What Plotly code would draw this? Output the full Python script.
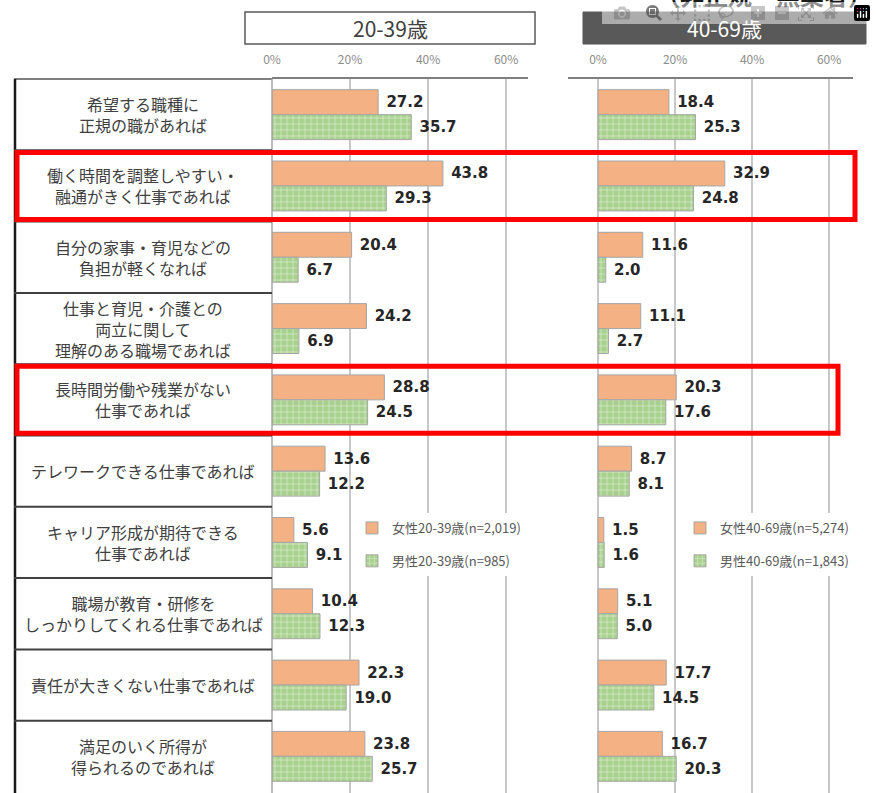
import plotly.graph_objects as go

W, H = 876, 793

categories = [
    "希望する職種に<br>正規の職があれば",
    "働く時間を調整しやすい・<br>融通がきく仕事であれば",
    "自分の家事・育児などの<br>負担が軽くなれば",
    "仕事と育児・介護との<br>両立に関して<br>理解のある職場であれば",
    "長時間労働や残業がない<br>仕事であれば",
    "テレワークできる仕事であれば",
    "キャリア形成が期待できる<br>仕事であれば",
    "職場が教育・研修を<br>しっかりしてくれる仕事であれば",
    "責任が大きくない仕事であれば",
    "満足のいく所得が<br>得られるのであれば",
]
women_20_39 = [27.2, 43.8, 20.4, 24.2, 28.8, 13.6, 5.6, 10.4, 22.3, 23.8]
men_20_39 = [35.7, 29.3, 6.7, 6.9, 24.5, 12.2, 9.1, 12.3, 19.0, 25.7]
women_40_69 = [18.4, 32.9, 11.6, 11.1, 20.3, 8.7, 1.5, 5.1, 17.7, 16.7]
men_40_69 = [25.3, 24.8, 2.0, 2.7, 17.6, 8.1, 1.6, 5.0, 14.5, 20.3]
tick_vals = [0, 20, 40, 60]
tick_text = ["0%", "20%", "40%", "60%"]
highlighted = [1, 4]

ORANGE = "#f4b183"
GREEN = "#a9d18e"
JP = "Noto Sans CJK JP"


def px(x):
    return x / W


def py(y):
    return 1 - y / H


fig = go.Figure()


def add_bars(xs, name, color, xaxis, legend, group, pattern=False):
    marker = dict(color=color, line=dict(color="#a6a6a6", width=1))
    if pattern:
        marker["pattern"] = dict(shape="+", fgcolor="white", size=6,
                                 solidity=0.25, fillmode="overlay")
    fig.add_trace(go.Bar(
        x=xs, y=categories, orientation="h", name=name,
        marker=marker, xaxis=xaxis, yaxis="y",
        texttemplate="\u00a0%{x:.1f}", textposition="outside",
        constraintext="none", cliponaxis=False,
        textfont=dict(family="DejaVu Sans", size=15, color="#262626",
                      weight="bold"),
        legend=legend, legendgroup=group,
    ))


add_bars(women_20_39, "女性20-39歳(n=2,019)", ORANGE, "x", "legend", "a")
add_bars(men_20_39, "男性20-39歳(n=985)", GREEN, "x", "legend", "b", True)
add_bars(women_40_69, "女性40-69歳(n=5,274)", ORANGE, "x2", "legend2", "c")
add_bars(men_40_69, "男性40-69歳(n=1,843)", GREEN, "x2", "legend2", "d", True)

ytop = py(79)
n = len(categories)
yaxis = dict(domain=[0, ytop], range=[n - 0.5 + 1 / 71.5, -0.5],
             showticklabels=False, showgrid=False, zeroline=False,
             type="category", automargin=False)

xcommon = dict(side="top", tickmode="array", tickvals=tick_vals,
               ticktext=tick_text, automargin=False,
               showgrid=True, gridcolor="#c8c8c8", gridwidth=1.5,
               zeroline=False, showline=True, linecolor="#7f7f7f",
               linewidth=2, ticks="", ticklabelstandoff=8,
               tickfont=dict(family=JP, size=12, color="#8c8c8c"))

legend_font = dict(family=JP, size=13, color="#595959")

fig.update_layout(
    width=W, height=H,
    margin=dict(l=0, r=0, t=0, b=0, autoexpand=False),
    paper_bgcolor="white", plot_bgcolor="white",
    barmode="group", bargap=0.3, bargroupgap=0,
    yaxis=yaxis,
    xaxis=dict(domain=[px(272), px(528)], range=[0, 65.6], anchor="y",
               **xcommon),
    xaxis2=dict(domain=[px(568), px(853)], range=[-7.8, 66.2], anchor="y",
                **xcommon),
    legend=dict(x=px(352), y=py(513), xanchor="left", yanchor="top",
                bgcolor="white", tracegroupgap=13, font=legend_font),
    legend2=dict(x=px(680), y=py(513), xanchor="left", yanchor="top",
                 bgcolor="white", tracegroupgap=13, font=legend_font),
    font=dict(family=JP),
)

# category column (table) lines
shapes = [
    dict(type="line", xref="paper", yref="paper", x0=px(14), x1=px(272),
         y0=ytop, y1=ytop, line=dict(color="#7f7f7f", width=2)),
    dict(type="line", xref="paper", yref="paper", x0=px(15), x1=px(15),
         y0=0, y1=ytop, line=dict(color="#1a1a1a", width=2.5)),
    dict(type="line", xref="paper", yref="paper", x0=px(272), x1=px(272),
         y0=0, y1=ytop, line=dict(color="#a6a6a6", width=1.5)),
]
for i in range(n - 1):
    shapes.append(dict(type="line", xref="paper", yref="y", x0=px(14),
                       x1=px(272), y0=i + 0.5, y1=i + 0.5,
                       line=dict(color="#404040", width=2)))

# header boxes
shapes.append(dict(type="rect", xref="paper", yref="paper", x0=px(245),
                   x1=px(535), y0=py(44), y1=py(12),
                   line=dict(color="#595959", width=1.5), fillcolor="white"))
shapes.append(dict(type="rect", xref="paper", yref="paper", x0=px(583),
                   x1=px(866), y0=py(44), y1=py(12),
                   line=dict(color="#595959", width=1), fillcolor="#595959"))

# red highlight boxes
right_edges = {1: 855, 4: 838}
for i in highlighted:
    shapes.append(dict(type="rect", xref="paper", yref="y", x0=px(17),
                       x1=px(right_edges[i]), y0=i - 0.47, y1=i + 0.47,
                       line=dict(color="#ff0000", width=5)))
fig.update_layout(shapes=shapes)

for cat in categories:
    fig.add_annotation(x=px(143), y=cat, xref="paper", yref="y",
                       xanchor="center", yanchor="middle",
                       text=cat, showarrow=False, align="center",
                       font=dict(family=JP, size=16, color="#404040"))

fig.add_annotation(x=px(390), y=py(28), xref="paper", yref="paper",
                   xanchor="center", yanchor="middle",
                   text="20-39歳", showarrow=False,
                   font=dict(family=JP, size=21, color="#404040"))
fig.add_annotation(x=px(724), y=py(28), xref="paper", yref="paper",
                   xanchor="center", yanchor="middle",
                   text="40-69歳", showarrow=False,
                   font=dict(family=JP, size=21, color="white"))
fig.add_annotation(x=px(874), y=py(14), xref="paper", yref="paper",
                   xanchor="right", yanchor="bottom",
                   text="（非正規・無業者）", showarrow=False,
                   font=dict(family=JP, size=24, color="#1a1a1a",
                             weight="bold"))

fig.write_html("out.html", post_script="document.body.style.margin='0';")
